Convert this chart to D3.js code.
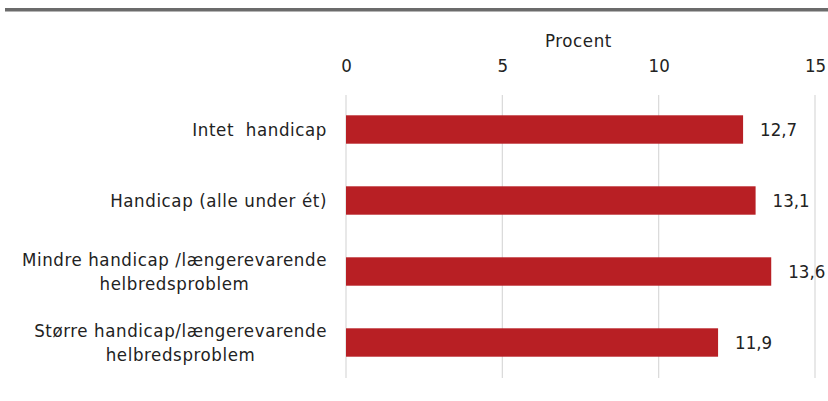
<!DOCTYPE html>
<html>
<head>
<meta charset="utf-8">
<script src="https://cdn.jsdelivr.net/npm/d3@7"></script>
<style>
  body { margin: 0; background: #fff; }
  text {
    font-family: "DejaVu Sans Condensed", "DejaVu Sans", sans-serif;
    font-stretch: condensed;
    fill: #222;
  }
</style>
</head>
<body>
<div id="container"></div>
<script>
const width = 828,
  height = 401,
  margin = { top: 94, bottom: 23, left: 346, right: 13 };

// data
const categories = [
  ["Intet\u00a0 handicap"],
  ["Handicap (alle under ét)"],
  ["Mindre handicap /længerevarende", "helbredsproblem"],
  ["Større handicap/længerevarende", "helbredsproblem"],
];
const values = [12.7, 13.1, 13.6, 11.9];
const tickValues = [0, 5, 10, 15];
const axisTitle = "Procent";

const fontSize = 18.5;
const spacing = 0.6;

const svg = d3
  .select("#container")
  .append("svg")
  .attr("width", width)
  .attr("height", height);

// grey rule across the top
svg
  .append("rect")
  .attr("x", 5)
  .attr("y", 8)
  .attr("width", width - 5)
  .attr("height", 3.5)
  .attr("fill", "#6b6b6b");

const x = d3
  .scaleLinear()
  .domain([0, 15])
  .range([margin.left, width - margin.right]);

const y = d3
  .scaleBand()
  .domain(d3.range(values.length))
  .range([margin.top, height - margin.bottom])
  .paddingInner(0.6)
  .paddingOuter(0.3);

// grid lines
svg
  .selectAll("line.grid")
  .data(tickValues)
  .join("line")
  .attr("class", "grid")
  .attr("x1", (d) => x(d))
  .attr("x2", (d) => x(d))
  .attr("y1", margin.top + 1)
  .attr("y2", height - margin.bottom)
  .attr("stroke", "#d9d9d9")
  .attr("stroke-width", 1.2);

// top axis labels
const axis = d3.axisTop(x).tickValues(tickValues).tickSize(0).tickPadding(0);
const gAxis = svg
  .append("g")
  .attr("transform", `translate(0, 72)`)
  .call(axis);
gAxis.select(".domain").remove();
gAxis
  .selectAll("text")
  .style("font-family", null)
  .attr("font-size", fontSize)
  .attr("fill", "#222");
gAxis.attr("font-family", null);

svg
  .append("text")
  .attr("x", x(7.5) - 2)
  .attr("y", 47)
  .attr("text-anchor", "middle")
  .attr("font-size", fontSize)
  .attr("letter-spacing", spacing)
  .text(axisTitle);

// bars
svg
  .selectAll("rect.bar")
  .data(values)
  .join("rect")
  .attr("class", "bar")
  .attr("x", x(0))
  .attr("y", (d, i) => y(i))
  .attr("width", (d) => x(d) - x(0))
  .attr("height", y.bandwidth())
  .attr("fill", "#b81f24");

// value labels
svg
  .selectAll("text.value")
  .data(values)
  .join("text")
  .attr("class", "value")
  .attr("x", (d) => x(d) + 17)
  .attr("y", (d, i) => y(i) + y.bandwidth() / 2)
  .attr("dy", "0.35em")
  .attr("font-size", fontSize)
  .text((d) => d3.format(".1f")(d).replace(".", ","));

// category labels
const labelRight = 327;
const lineH = 24;
const gLabels = svg
  .selectAll("g.label")
  .data(categories)
  .join("g")
  .attr("class", "label");

gLabels.each(function (lines, i) {
  const g = d3.select(this);
  const cy = y(i) + y.bandwidth() / 2;
  const t = g
    .selectAll("text")
    .data(lines)
    .join("text")
    .attr("font-size", fontSize)
    .attr("letter-spacing", spacing)
    .attr("y", (d, j) => cy + (j - (lines.length - 1) / 2) * lineH)
    .attr("dy", "0.35em")
    .text((d) => d);
  const maxW = d3.max(t.nodes(), (n) => n.getComputedTextLength());
  t.attr("x", labelRight - maxW / 2).attr("text-anchor", "middle");
});
</script>
</body>
</html>
